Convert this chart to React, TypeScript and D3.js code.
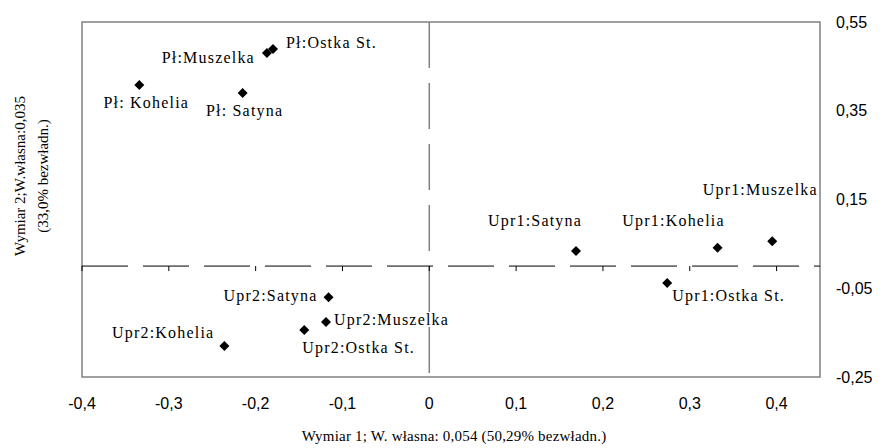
import React from "react";
import * as d3 from "d3";

const names = [
  "Pł:Ostka St.", "Pł:Muszelka", "Pł: Kohelia", "Pł: Satyna",
  "Upr1:Satyna", "Upr1:Kohelia", "Upr1:Muszelka", "Upr1:Ostka St.",
  "Upr2:Satyna", "Upr2:Muszelka", "Upr2:Ostka St.", "Upr2:Kohelia",
];
const dim1 = [-0.18, -0.187, -0.334, -0.215, 0.169, 0.332, 0.395, 0.274, -0.116, -0.119, -0.144, -0.236];
const dim2 = [0.489, 0.48, 0.408, 0.39, 0.034, 0.041, 0.056, -0.038, -0.07, -0.126, -0.144, -0.18];

const xTicks = [-0.4, -0.3, -0.2, -0.1, 0, 0.1, 0.2, 0.3, 0.4];
const yTicks = [0.55, 0.35, 0.15, -0.05, -0.25];

// label placement (px offsets from the point, text-anchor)
const labelPlace: [number, number, string][] = [
  [13, -1, "start"], [-12, 10, "end"], [7, 23, "middle"], [2, 23, "middle"],
  [-41, -25, "middle"], [-44, -22, "middle"], [-12, -46, "middle"], [5, 18, "start"],
  [-11, 4, "end"], [8, 3, "start"], [-2, 23, "start"], [-10, -8, "end"],
];

const W = 884, H = 448;
const L = 82, R = 820, T = 22, B = 377;

const fmt = (v: number) => (Math.abs(v) < 1e-9 ? "0" : String(+v.toFixed(2)).replace(".", ","));

export default function App() {
  const x = d3.scaleLinear().domain([-0.4, 0.45]).range([L, R]);
  const y = d3.scaleLinear().domain([-0.25, 0.55]).range([B, T]);
  const diamond = "M0,-5L5,0L0,5L-5,0Z";
  const serif = "'Liberation Serif', 'Times New Roman', serif";
  const sans = "'Liberation Sans', Arial, sans-serif";
  return (
    <svg width={W} height={H} style={{ position: "absolute", left: 0, top: 0, background: "#fff" }}>
      <rect x={L} y={T} width={R - L} height={B - T} fill="none" stroke="#808080" strokeWidth={1.5} />
      {/* vertical axis at x=0 */}
      <line x1={x(0)} x2={x(0)} y1={T} y2={B} stroke="#808080" strokeWidth={1.5} strokeDasharray="46 15" />
      {/* horizontal axis at y=0 */}
      <line x1={L} x2={R} y1={y(0)} y2={y(0)} stroke="#000" strokeWidth={1} strokeDasharray="46 15" />
      {xTicks.map((t) => (
        <line key={"xt" + t} x1={x(t)} x2={x(t)} y1={y(0)} y2={y(0) + 5} stroke="#000" strokeWidth={1} />
      ))}
      {xTicks.map((t) => (
        <text key={"xl" + t} x={x(t)} y={B + 26} textAnchor="middle" dominantBaseline="central"
          fontFamily={sans} fontSize={16} fill="#000">{fmt(t)}</text>
      ))}
      {yTicks.map((t) => (
        <text key={"yl" + t} x={836} y={y(t)} textAnchor="start" dominantBaseline="central"
          fontFamily={sans} fontSize={16} fill="#000">{fmt(t)}</text>
      ))}
      {names.map((n, i) => (
        <path key={"p" + i} d={diamond} transform={`translate(${x(dim1[i])},${y(dim2[i])})`} fill="#000" />
      ))}
      {names.map((n, i) => (
        <text key={"t" + i} x={x(dim1[i]) + labelPlace[i][0]} y={y(dim2[i]) + labelPlace[i][1]}
          textAnchor={labelPlace[i][2] as any} fontFamily={serif} fontSize={16} letterSpacing={1.2} fill="#000">{n}</text>
      ))}
      <text x={454} y={441} textAnchor="middle" fontFamily={serif} fontSize={15} letterSpacing={0.2} fill="#000">
        Wymiar 1; W. własna: 0,054 (50,29% bezwładn.)
      </text>
      <g transform="translate(20,176) rotate(-90)">
        <text x={0} y={0} textAnchor="middle" dominantBaseline="central" fontFamily={serif} fontSize={15} fill="#000">
          Wymiar 2;W.własna:0,035
        </text>
        <text x={0} y={23} textAnchor="middle" dominantBaseline="central" fontFamily={serif} fontSize={15} fill="#000">
          (33,0% bezwładn.)
        </text>
      </g>
    </svg>
  );
}
